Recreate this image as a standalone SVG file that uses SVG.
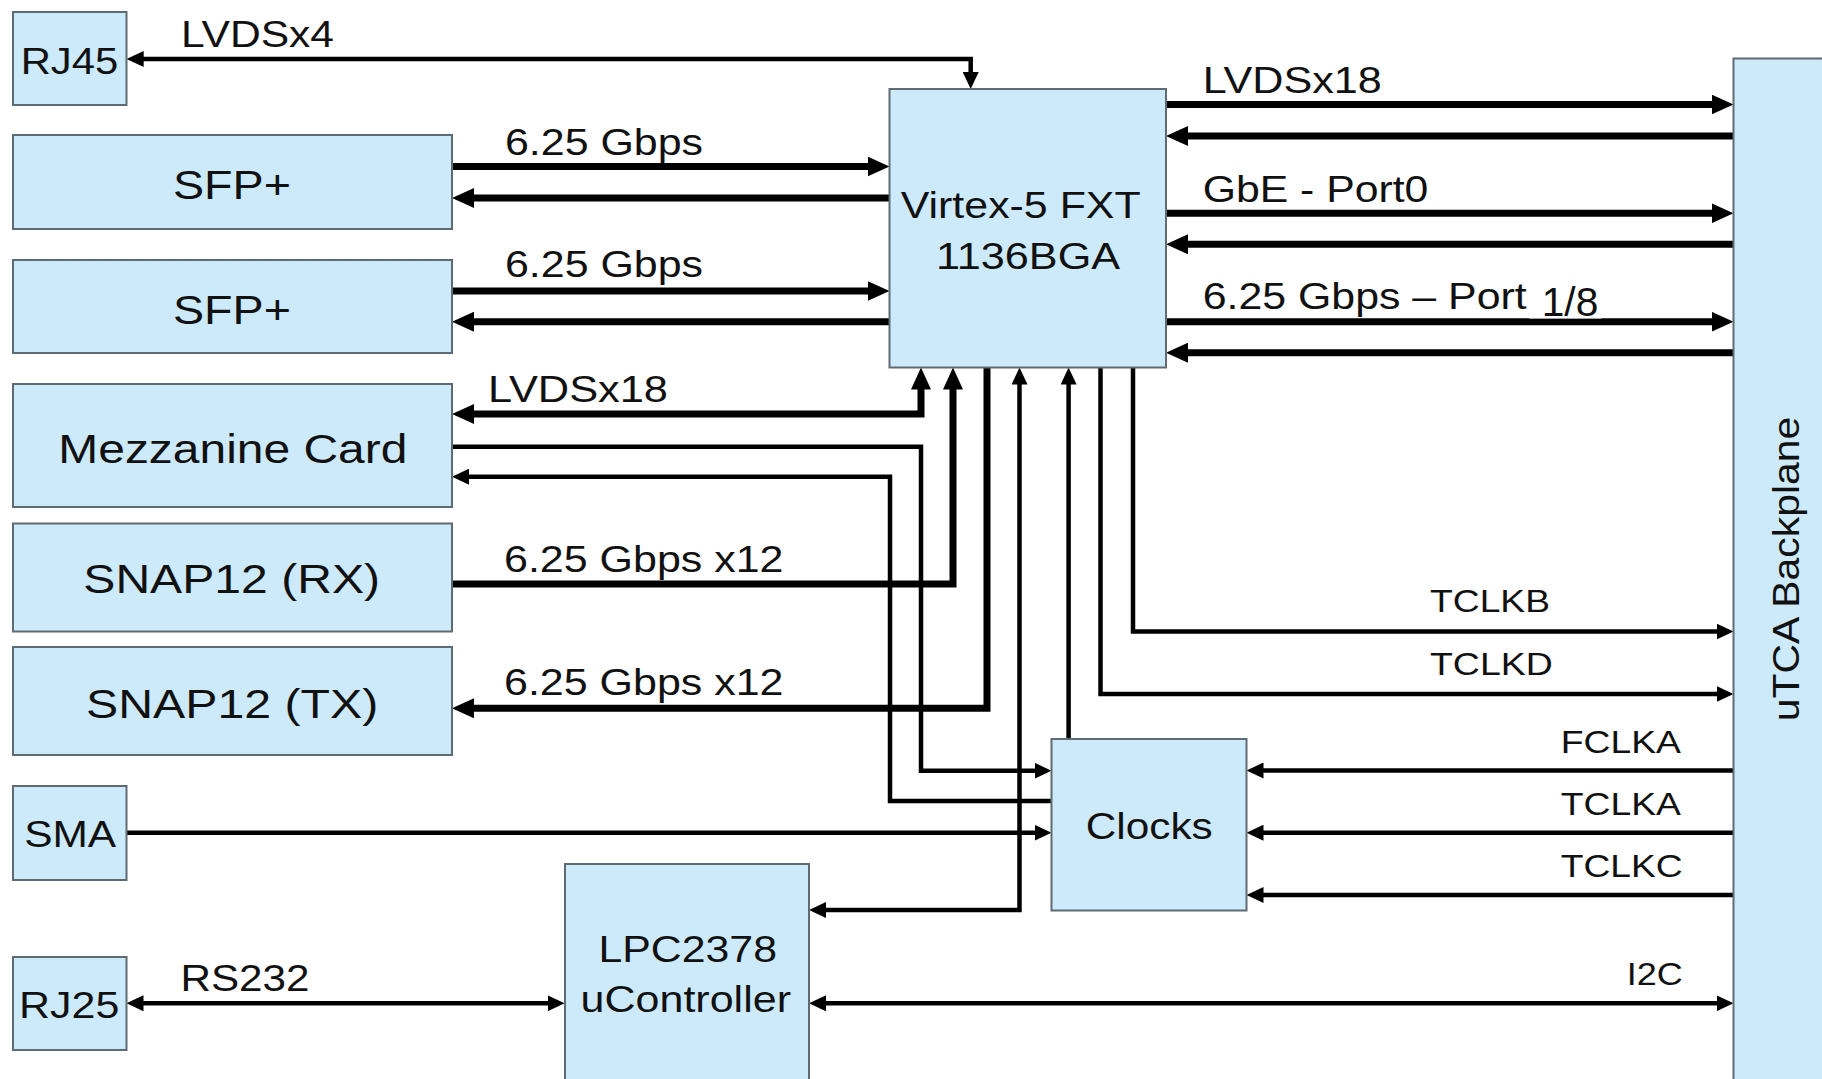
<svg xmlns="http://www.w3.org/2000/svg" width="1822" height="1079" viewBox="0 0 1822 1079">
<style>
.box{fill:#cdeafb;stroke:#5f6a72;stroke-width:2}
text{font-family:"Liberation Sans",Arial,sans-serif;fill:#111}
.n{font-size:41px}
.s{font-size:37px}
.l{font-size:37px}
.c{font-size:32px}
.m{text-anchor:middle}
.e{text-anchor:end}
.thick{fill:none;stroke:#000;stroke-width:7;stroke-linejoin:miter}
.thin{fill:none;stroke:#000;stroke-width:4.5;stroke-linejoin:miter}
.thick.a{marker-end:url(#ab)}
.thick.b{marker-start:url(#ab);marker-end:url(#ab)}
.thin.a{marker-end:url(#as)}
.thin.b{marker-start:url(#as);marker-end:url(#as)}
</style>
<defs>
<marker id="ab" markerUnits="userSpaceOnUse" viewBox="0 -10 22 20" markerWidth="22" markerHeight="20" refX="1" refY="0" orient="auto-start-reverse"><path d="M0,-10 L22,0 L0,10 z" fill="#000"/></marker>
<marker id="as" markerUnits="userSpaceOnUse" viewBox="0 -8 17 16" markerWidth="17" markerHeight="16" refX="1" refY="0" orient="auto-start-reverse"><path d="M0,-8 L17,0 L0,8 z" fill="#000"/></marker>
</defs>
<rect width="1822" height="1079" fill="#fff"/>

<g id="connectors">
<path class="thick a" d="M452,166.5 H868.5"/>
<path class="thick a" d="M889.5,198 H473"/>
<path class="thick a" d="M452,291 H868.5"/>
<path class="thick a" d="M889.5,321.7 H473"/>
<path class="thick b" d="M473,414 H921 V388.5"/>
<path class="thick a" d="M452,584 H953 V388.5"/>
<path class="thick a" d="M987,367.5 V708.3 H473"/>
<path class="thick a" d="M1166,104.5 H1712.5"/>
<path class="thick a" d="M1733.5,136 H1187"/>
<path class="thick a" d="M1166,213.3 H1712.5"/>
<path class="thick a" d="M1733.5,244.3 H1187"/>
<path class="thick a" d="M1166,321.7 H1712.5"/>
<path class="thick a" d="M1733.5,352.7 H1187"/>
<path class="thin b" d="M142.7,59 H970.7 V73"/>
<path class="thin a" d="M452,446.7 H921 V770.7 H1035.5"/>
<path class="thin a" d="M1051.5,801 H890 V476.7 H468"/>
<path class="thin b" d="M825,910 H1019.5 V383.5"/>
<path class="thin a" d="M1068.6,739 V383.5"/>
<path class="thin a" d="M1100.5,367.5 V693.9 H1717.5"/>
<path class="thin a" d="M1133,367.5 V631.5 H1717.5"/>
<path class="thin a" d="M1733.5,770.5 H1262.5"/>
<path class="thin a" d="M1733.5,832.7 H1262.5"/>
<path class="thin a" d="M1733.5,895 H1262.5"/>
<path class="thin a" d="M126.5,832.7 H1035.5"/>
<path class="thin b" d="M142.5,1003.3 H548.6"/>
<path class="thin b" d="M825,1003.3 H1717.5"/>
</g>

<g id="labels">
<text class="l" x="181" y="47.3" textLength="153" lengthAdjust="spacingAndGlyphs">LVDSx4</text>
<text class="l" x="505" y="155" textLength="198" lengthAdjust="spacingAndGlyphs">6.25 Gbps</text>
<text class="l" x="505" y="277.3" textLength="198" lengthAdjust="spacingAndGlyphs">6.25 Gbps</text>
<text class="l" x="488" y="401.7" textLength="180" lengthAdjust="spacingAndGlyphs">LVDSx18</text>
<text class="l" x="504" y="572" textLength="279.5" lengthAdjust="spacingAndGlyphs">6.25 Gbps x12</text>
<text class="l" x="504" y="695" textLength="279.5" lengthAdjust="spacingAndGlyphs">6.25 Gbps x12</text>
<text class="l" x="180.5" y="990.7" textLength="129" lengthAdjust="spacingAndGlyphs">RS232</text>
<text class="l" x="1202.7" y="92.7" textLength="179" lengthAdjust="spacingAndGlyphs">LVDSx18</text>
<text class="l" x="1202.7" y="201.7" textLength="225.6" lengthAdjust="spacingAndGlyphs">GbE - Port0</text>
<text class="l" x="1202.7" y="309.3" textLength="324" lengthAdjust="spacingAndGlyphs">6.25 Gbps – Port</text>
<rect x="1529" y="283" width="72.7" height="35.5" fill="#fff"/>
<text style="font-size:41px" x="1541.7" y="315.7" textLength="56.6" lengthAdjust="spacingAndGlyphs">1/8</text>
<text class="c" x="1430" y="612.4" textLength="120" lengthAdjust="spacingAndGlyphs">TCLKB</text>
<text class="c" x="1430" y="674.8" textLength="122.7" lengthAdjust="spacingAndGlyphs">TCLKD</text>
<text class="c" x="1560.7" y="752.8" textLength="120.3" lengthAdjust="spacingAndGlyphs">FCLKA</text>
<text class="c" x="1560.7" y="815.2" textLength="120.3" lengthAdjust="spacingAndGlyphs">TCLKA</text>
<text class="c" x="1560.7" y="876.5" textLength="122" lengthAdjust="spacingAndGlyphs">TCLKC</text>
<text class="c" x="1626.7" y="984.8" textLength="56" lengthAdjust="spacingAndGlyphs">I2C</text>
</g>

<g id="rj45"><rect class="box" x="13" y="12" width="113.5" height="93"/><text class="s" x="20.7" y="74" textLength="97.6" lengthAdjust="spacingAndGlyphs">RJ45</text></g>
<g id="sfp1"><rect class="box" x="13" y="135" width="439" height="94"/><text class="n" x="173" y="199.3" textLength="118" lengthAdjust="spacingAndGlyphs">SFP+</text></g>
<g id="sfp2"><rect class="box" x="13" y="260" width="439" height="93"/><text class="n" x="173" y="324.3" textLength="118" lengthAdjust="spacingAndGlyphs">SFP+</text></g>
<g id="mezzanine"><rect class="box" x="13" y="384" width="439" height="123"/><text class="n" x="58.3" y="463.3" textLength="349" lengthAdjust="spacingAndGlyphs">Mezzanine Card</text></g>
<g id="snap12rx"><rect class="box" x="13" y="523.5" width="439" height="108"/><text class="n" x="83.3" y="593.3" textLength="296.7" lengthAdjust="spacingAndGlyphs">SNAP12 (RX)</text></g>
<g id="snap12tx"><rect class="box" x="13" y="647" width="439" height="108"/><text class="n" x="86" y="718.3" textLength="292.3" lengthAdjust="spacingAndGlyphs">SNAP12 (TX)</text></g>
<g id="sma"><rect class="box" x="13" y="786" width="113.5" height="94"/><text class="s" x="24.2" y="847.3" textLength="92" lengthAdjust="spacingAndGlyphs">SMA</text></g>
<g id="rj25"><rect class="box" x="13" y="957" width="113.5" height="93"/><text class="s" x="19" y="1017.7" textLength="100.3" lengthAdjust="spacingAndGlyphs">RJ25</text></g>
<g id="ucontroller"><rect class="box" x="565" y="864" width="244" height="225"/><text class="s" x="598.4" y="961.7" textLength="178.6" lengthAdjust="spacingAndGlyphs">LPC2378</text><text class="s" x="580.6" y="1011.7" textLength="210.4" lengthAdjust="spacingAndGlyphs">uController</text></g>
<g id="virtex"><rect class="box" x="889.5" y="89" width="276.5" height="278.5"/><text class="s" x="900.7" y="217.7" textLength="240" lengthAdjust="spacingAndGlyphs">Virtex-5 FXT</text><text class="s" x="936" y="269.3" textLength="184" lengthAdjust="spacingAndGlyphs">1136BGA</text></g>
<g id="clocks"><rect class="box" x="1051.5" y="739" width="195" height="171.5"/><text class="s" x="1085.8" y="839.3" textLength="127" lengthAdjust="spacingAndGlyphs">Clocks</text></g>
<g id="backplane"><rect class="box" x="1733.5" y="58.5" width="100" height="1030"/><text class="s m" transform="translate(1798.5,569) rotate(-90)" x="0" y="0" textLength="304.5" lengthAdjust="spacingAndGlyphs">uTCA Backplane</text></g>
</svg>
